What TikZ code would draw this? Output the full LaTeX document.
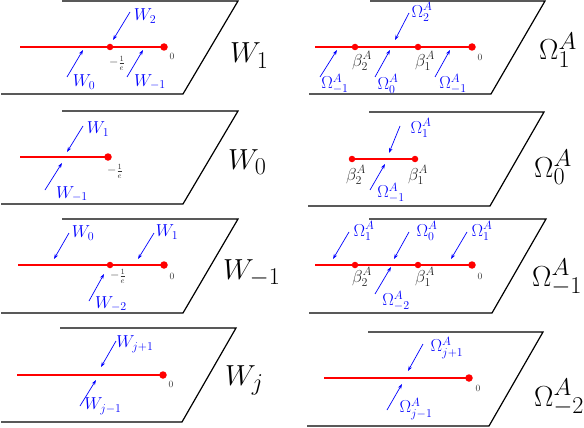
\documentclass[tikz,border=0pt]{standalone}
\usetikzlibrary{arrows.meta}
\definecolor{cutred}{RGB}{255,0,0}
\definecolor{arrblue}{RGB}{0,0,255}
\newcommand{\bigsym}[1]{\scalebox{1.165}{$#1$}}
\begin{document}
\begin{tikzpicture}[x=1pt,y=-1pt,
 plane/.style={draw=black, line width=1.2pt, line join=miter},
 cut/.style={draw=cutred, line width=1.1pt},
 enddot/.style={circle, fill=cutred, inner sep=0pt, minimum size=7.5pt},
 middot/.style={circle, fill=cutred, inner sep=0pt, minimum size=6.5pt},
 blab/.style={text=arrblue, font=\fontsize{17.28}{20}\selectfont, inner sep=0pt},
 darr/.style={draw=arrblue, line width=0.7pt, -{Stealth[length=5pt,width=3.5pt]}},
 tinylab/.style={font=\fontsize{9.5}{11}\selectfont, inner sep=0pt, text=black!80},
 fraclab/.style={font=\fontsize{12}{14}\selectfont, inner sep=0pt, text=black!80},
 biglab/.style={font=\fontsize{24.88}{28}\selectfont, inner sep=0pt, anchor=base west},
 betalab/.style={font=\fontsize{17.28}{20}\selectfont, inner sep=0pt, text=black!85}
]
\useasboundingbox (0,0) rectangle (584,428);

% ===== red cuts (drawn first, dots on top) =====
\coordinate (l1s) at (20,47);
\coordinate (l2s) at (20,157);
\coordinate (l3s) at (18,265);
\coordinate (l4s) at (17,375);
\coordinate (r1s) at (315,47);
\coordinate (r3s) at (315,265);
\coordinate (r4s) at (324,378);
\coordinate (l1end) at (164,47);
\coordinate (l2end) at (108,157);
\coordinate (l3end) at (164,265);
\coordinate (l4end) at (163,375);
\coordinate (r1end) at (472,47);
\coordinate (r2b2c) at (352,159);
\coordinate (r2b1c) at (415,159);
\coordinate (r3end) at (472,265);
\coordinate (r4end) at (469,378);
\draw[cut] (l1s) -- (l1end);
\draw[cut] (l2s) -- (l2end);
\draw[cut] (l3s) -- (l3end);
\draw[cut] (l4s) -- (l4end);
\draw[cut] (r1s) -- (r1end);
\draw[cut] (r2b2c) -- (r2b1c);
\draw[cut] (r3s) -- (r3end);
\draw[cut] (r4s) -- (r4end);

% ===== Panel L1: W_1 =====
\draw[plane] (62,1) -- (238,1) -- (183,94) -- (1,94);
\node[middot] (l1m) at (110,47) {};
\node[enddot] (l1e) at (l1end) {};
\node[tinylab] (l1z) at (172,56) {0};
\node[fraclab] (l1f) at (117,63) {$-\frac{1}{e}$};
\coordinate (l1a1) at (130,12); \coordinate (l1a1e) at (113,40);
\draw[darr] (l1a1) -- (l1a1e);
\node[blab] (l1t1) at (145,16) {$W_2$};
\coordinate (l1a2) at (67,77); \coordinate (l1a2e) at (83,50);
\draw[darr] (l1a2) -- (l1a2e);
\node[blab] (l1t2) at (84,82) {$W_0$};
\coordinate (l1a3) at (127,77); \coordinate (l1a3e) at (143,50);
\draw[darr] (l1a3) -- (l1a3e);
\node[blab] (l1t3) at (150,82) {$W_{-1}$};
\node[biglab] (l1big) at (230,63) {\bigsym{W_1}};

% ===== Panel L2: W_0 =====
\draw[plane] (62,111) -- (238,111) -- (183,204) -- (1,204);
\node[enddot] (l2e) at (l2end) {};
\node[fraclab] (l2f) at (115,171) {$-\frac{1}{e}$};
\coordinate (l2a1) at (83,126); \coordinate (l2a1e) at (67,152);
\draw[darr] (l2a1) -- (l2a1e);
\node[blab] (l2t1) at (98,129) {$W_1$};
\coordinate (l2a2) at (45,190); \coordinate (l2a2e) at (62,163);
\draw[darr] (l2a2) -- (l2a2e);
\node[blab] (l2t2) at (72,194) {$W_{-1}$};
\node[biglab] (l2big) at (228,169) {\bigsym{W_0}};

% ===== Panel L3: W_{-1} =====
\draw[plane] (62,219) -- (238,219) -- (183,313) -- (1,313);
\node[middot] (l3m) at (110,265) {};
\node[enddot] (l3e) at (l3end) {};
\node[tinylab] (l3z) at (172,276) {0};
\node[fraclab] (l3f) at (118,276) {$-\frac{1}{e}$};
\coordinate (l3a1) at (69,233); \coordinate (l3a1e) at (54,259);
\draw[darr] (l3a1) -- (l3a1e);
\node[blab] (l3t1) at (83,233) {$W_0$};
\coordinate (l3a2) at (154,233); \coordinate (l3a2e) at (138,259);
\draw[darr] (l3a2) -- (l3a2e);
\node[blab] (l3t2) at (167,232) {$W_1$};
\coordinate (l3a3) at (89,301); \coordinate (l3a3e) at (104,274);
\draw[darr] (l3a3) -- (l3a3e);
\node[blab] (l3t3) at (111,304) {$W_{-2}$};
\node[biglab] (l3big) at (223,279) {\bigsym{W_{-1}}};

% ===== Panel L4: W_j =====
\draw[plane] (60,328) -- (236,328) -- (182,422) -- (1,422);
\node[enddot] (l4e) at (l4end) {};
\node[tinylab] (l4z) at (171,384) {0};
\coordinate (l4a1) at (116,341); \coordinate (l4a1e) at (101,367);
\draw[darr] (l4a1) -- (l4a1e);
\node[blab] (l4t1) at (135,344) {$W_{j+1}$};
\coordinate (l4a2) at (80,406); \coordinate (l4a2e) at (96,380);
\draw[darr] (l4a2) -- (l4a2e);
\node[blab] (l4t2) at (103,406) {$W_{j-1}$};
\node[biglab] (l4big) at (225,385) {\bigsym{W_j}};

% ===== Panel R1: Omega_1^A =====
\draw[plane] (370,1) -- (545,1) -- (491,94) -- (309,94);
\node[middot] (r1b2) at (355,47) {};
\node[middot] (r1b1) at (418,47) {};
\node[enddot] (r1e) at (r1end) {};
\node[tinylab] (r1z) at (480,57) {0};
\node[betalab] (r1t5) at (362,61) {$\beta_2^A$};
\node[betalab] (r1t6) at (425,61) {$\beta_1^A$};
\coordinate (r1a1) at (409,13); \coordinate (r1a1e) at (395,40);
\draw[darr] (r1a1) -- (r1a1e);
\node[blab] (r1t1) at (422,12) {$\Omega_2^A$};
\coordinate (r1a2) at (320,77); \coordinate (r1a2e) at (337,50);
\draw[darr] (r1a2) -- (r1a2e);
\node[blab] (r1t2) at (335,84) {$\Omega_{-1}^A$};
\coordinate (r1a3) at (375,77); \coordinate (r1a3e) at (390,50);
\draw[darr] (r1a3) -- (r1a3e);
\node[blab] (r1t3) at (388,84) {$\Omega_0^A$};
\coordinate (r1a4) at (435,77); \coordinate (r1a4e) at (450,50);
\draw[darr] (r1a4) -- (r1a4e);
\node[blab] (r1t4) at (453,84) {$\Omega_{-1}^A$};
\node[biglab] (r1big) at (539,60) {\bigsym{\Omega_1^A}};

% ===== Panel R2: Omega_0^A =====
\draw[plane] (369,112) -- (544,112) -- (490,206) -- (308,206);
\node[middot] (r2b2) at (r2b2c) {};
\node[middot] (r2b1) at (r2b1c) {};
\node[betalab] (r2t3) at (356,175) {$\beta_2^A$};
\node[betalab] (r2t4) at (418,175) {$\beta_1^A$};
\coordinate (r2a1) at (400,126); \coordinate (r2a1e) at (389,153);
\draw[darr] (r2a1) -- (r2a1e);
\node[blab] (r2t1) at (421,128) {$\Omega_1^A$};
\coordinate (r2a2) at (370,190); \coordinate (r2a2e) at (385,164);
\draw[darr] (r2a2) -- (r2a2e);
\node[blab] (r2t2) at (391,193) {$\Omega_{-1}^A$};
\node[biglab] (r2big) at (534,177) {\bigsym{\Omega_0^A}};

% ===== Panel R3: Omega_{-1}^A =====
\draw[plane] (369,219) -- (546,219) -- (492,313) -- (309,313);
\node[middot] (r3b2) at (355,265) {};
\node[middot] (r3b1) at (418,265) {};
\node[enddot] (r3e) at (r3end) {};
\node[tinylab] (r3z) at (480,276) {0};
\node[betalab] (r3t5) at (362,277) {$\beta_2^A$};
\node[betalab] (r3t6) at (425,277) {$\beta_1^A$};
\coordinate (r3a1) at (349,232); \coordinate (r3a1e) at (333,259);
\draw[darr] (r3a1) -- (r3a1e);
\node[blab] (r3t1) at (364,231) {$\Omega_1^A$};
\coordinate (r3a2) at (409,232); \coordinate (r3a2e) at (394,259);
\draw[darr] (r3a2) -- (r3a2e);
\node[blab] (r3t2) at (427,231) {$\Omega_0^A$};
\coordinate (r3a3) at (467,232); \coordinate (r3a3e) at (451,259);
\draw[darr] (r3a3) -- (r3a3e);
\node[blab] (r3t3) at (482,231) {$\Omega_1^A$};
\coordinate (r3a4) at (375,294); \coordinate (r3a4e) at (391,267);
\draw[darr] (r3a4) -- (r3a4e);
\node[blab] (r3t4) at (396,301) {$\Omega_{-2}^A$};
\node[biglab] (r3big) at (532,286) {\bigsym{\Omega_{-1}^A}};

% ===== Panel R4: Omega_{-2}^A =====
\draw[plane] (368,332) -- (543,332) -- (489,426) -- (307,426);
\node[enddot] (r4e) at (r4end) {};
\node[tinylab] (r4z) at (478,388) {0};
\coordinate (r4a1) at (423,344); \coordinate (r4a1e) at (408,371);
\draw[darr] (r4a1) -- (r4a1e);
\node[blab] (r4t1) at (447,348) {$\Omega_{j+1}^A$};
\coordinate (r4a2) at (387,410); \coordinate (r4a2e) at (402,384);
\draw[darr] (r4a2) -- (r4a2e);
\node[blab] (r4t2) at (416,409) {$\Omega_{j-1}^A$};
\node[biglab] (r4big) at (534,406) {\bigsym{\Omega_{-2}^A}};
\end{tikzpicture}
\end{document}
